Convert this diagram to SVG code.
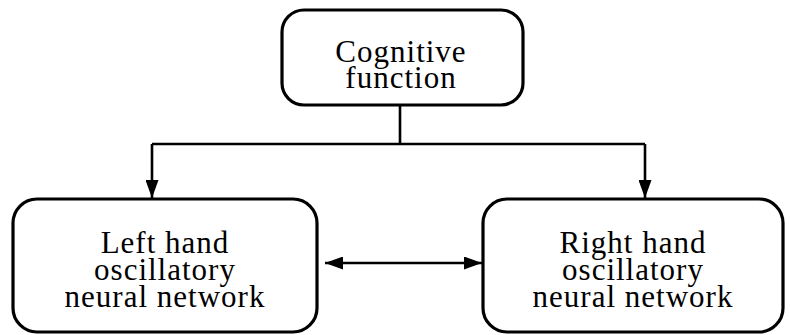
<svg xmlns="http://www.w3.org/2000/svg" width="790" height="335" viewBox="0 0 790 335">
<defs>
<style>
.box{fill:#fff;stroke:#000;stroke-width:3.2}
.t{font-family:"Liberation Serif","Times New Roman",serif;font-size:31px;letter-spacing:1px;text-anchor:middle;fill:#000}
.c{fill:none;stroke:#000;stroke-width:2.6}
</style>
<marker id="ah" viewBox="0 0 18 13" refX="18" refY="6.5" markerWidth="18" markerHeight="13" markerUnits="userSpaceOnUse" orient="auto-start-reverse">
<path d="M0,0 L18,6.5 L0,13 Z" fill="#000"/>
</marker>
</defs>
<rect width="790" height="335" fill="#fff"/>
<g id="connectors">
<path class="c" d="M400,106 V144"/>
<path class="c" d="M152,144 H645"/>
<path class="c" d="M152,144 V198" marker-end="url(#ah)"/>
<path class="c" d="M645,144 V198" marker-end="url(#ah)"/>
<path class="c" d="M325,263 H482" marker-start="url(#ah)" marker-end="url(#ah)"/>
</g>
<g id="cognitive">
<rect class="box" x="282" y="10" width="241" height="95" rx="22"/>
<text class="t" x="401" y="62">Cognitive</text>
<text class="t" x="401" y="88">function</text>
</g>
<g id="left">
<rect class="box" x="13" y="199" width="304" height="133" rx="24"/>
<text class="t" x="165" y="253">Left hand</text>
<text class="t" x="165" y="280">oscillatory</text>
<text class="t" x="165" y="307">neural network</text>
</g>
<g id="right">
<rect class="box" x="483" y="199" width="300" height="133" rx="24"/>
<text class="t" x="633" y="253">Right hand</text>
<text class="t" x="633" y="280">oscillatory</text>
<text class="t" x="633" y="307">neural network</text>
</g>
</svg>
